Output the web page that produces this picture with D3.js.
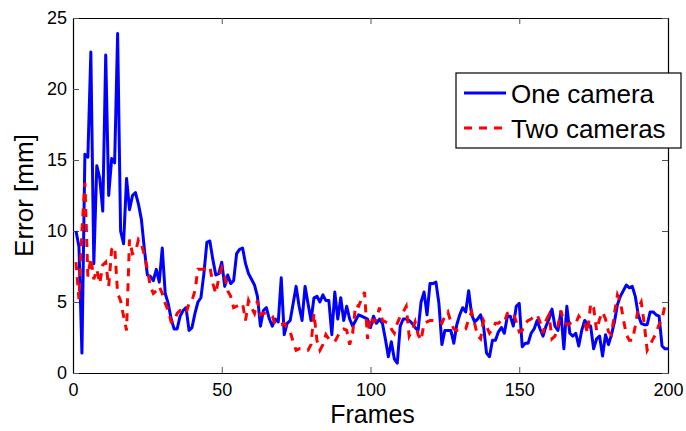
<!DOCTYPE html>
<html>
<head>
<meta charset="utf-8">
<script src="https://cdn.jsdelivr.net/npm/d3@7"></script>
<style>
  body { margin: 0; background: #fff; }
  svg text { font-family: "Liberation Sans", Arial, sans-serif; fill: #000; }
</style>
</head>
<body>
<svg id="chart" width="686" height="431"></svg>
<script>
// frames 1..200
const oneCamera = [
  10.0, 8.9, 1.4, 15.4, 15.2, 22.6, 7.7, 14.6, 13.7, 11.4,
  22.4, 12.5, 15.1, 14.8, 23.9, 10.0, 9.1, 13.7, 11.5, 12.5,
  12.7, 11.9, 10.8, 8.7, 6.9, 6.8, 6.5, 7.3, 6.4, 8.8,
  5.6, 4.9, 3.8, 3.1, 3.1, 4.0, 4.4, 4.6, 3.0, 3.2,
  4.2, 5.0, 5.3, 7.0, 9.2, 9.3, 8.0, 6.9, 7.0, 7.8,
  6.1, 6.9, 6.3, 6.5, 8.4, 8.7, 8.8, 7.7, 7.0, 6.6,
  6.2, 5.4, 3.3, 4.4, 4.6, 3.8, 3.3, 3.8, 3.6, 6.7,
  2.7, 3.5, 3.7, 4.9, 6.1, 4.7, 3.7, 6.1, 4.9, 3.7,
  5.3, 5.4, 5.0, 5.5, 5.1, 5.1, 2.7, 5.7, 3.8, 5.3,
  3.7, 4.7, 3.8, 3.3, 3.7, 4.1, 4.0, 3.9, 3.8, 3.2,
  4.0, 3.5, 3.8, 3.5, 2.4, 1.15, 2.2, 1.0, 0.7, 3.3,
  3.8, 3.8, 3.7, 3.5, 3.2, 3.0, 5.0, 5.7, 4.1, 6.3,
  6.3, 6.4, 4.9, 2.0, 3.0, 3.0, 3.0, 2.1, 3.4, 4.1,
  4.6, 4.3, 5.8, 4.1, 3.6, 3.8, 4.1, 3.3, 1.4, 1.15,
  2.3, 2.3, 2.9, 3.2, 2.8, 4.0, 4.0, 3.3, 4.7, 4.9,
  1.85, 2.1, 2.1, 2.8, 3.1, 3.7, 3.1, 2.6, 3.3, 3.8,
  4.5, 3.3, 3.0, 4.3, 1.7, 4.7, 2.8, 2.6, 2.8, 1.9,
  3.0, 3.7, 3.4, 3.3, 1.7, 2.4, 2.6, 1.2, 2.7, 2.0,
  2.7, 3.6, 4.8, 5.4, 5.8, 6.2, 6.0, 6.1, 5.4, 4.1,
  3.5, 3.4, 3.4, 4.3, 4.3, 4.1, 4.0, 1.9, 1.7, 1.7
];
const twoCameras = [
  7.8, 5.2, 10.0, 13.4, 6.8, 8.1, 6.6, 7.3, 6.3, 7.6,
  7.8, 6.1, 8.7, 8.9, 5.6, 5.1, 4.0, 3.0, 9.4, 8.4,
  8.5, 9.4, 9.1, 8.3, 7.3, 6.1, 5.6, 5.8, 6.1, 5.6,
  4.9, 4.4, 3.6, 3.6, 4.2, 4.4, 4.3, 4.2, 4.9, 5.1,
  5.8, 7.3, 7.3, 7.3, 7.4, 7.5, 6.3, 5.6, 6.7, 7.4,
  6.8, 5.8, 5.4, 4.6, 4.7, 4.8, 4.9, 3.7, 5.1, 4.6,
  4.2, 5.1, 4.1, 4.2, 4.2, 4.1, 4.0, 3.4, 3.4, 3.4,
  3.5, 3.1, 2.9, 2.2, 1.6, 1.7, 1.7, 1.6, 1.6, 2.0,
  4.2, 2.3, 1.6, 2.0, 2.7, 2.4, 2.3, 2.2, 2.6, 3.0,
  3.1, 3.0, 2.0, 2.8, 4.8, 4.7, 5.2, 5.7, 2.4, 4.0,
  3.6, 3.8, 4.6, 3.7, 3.6, 3.5, 3.1, 2.8, 3.5, 4.0,
  4.3, 4.7, 2.6, 3.0, 3.6, 2.7, 2.3, 3.5, 3.6, 3.7,
  3.7, 3.7, 3.6, 3.5, 4.0, 4.3, 3.6, 3.1, 3.0, 3.0,
  3.0, 3.1, 3.8, 4.3, 3.5, 2.6, 2.4, 3.7, 3.3, 2.8,
  3.1, 3.5, 3.5, 3.7, 3.6, 4.2, 4.3, 4.2, 3.6, 2.9,
  3.0, 3.5, 3.7, 3.8, 4.0, 4.1, 3.6, 2.8, 3.7, 4.1,
  2.4, 2.6, 3.3, 4.4, 3.6, 3.4, 3.5, 3.6, 3.5, 4.0,
  3.7, 3.5, 2.8, 4.9, 4.6, 3.0, 3.8, 4.3, 3.8, 2.9,
  2.7, 4.2, 5.5, 5.0, 3.8, 2.7, 2.3, 2.3, 3.3, 4.6,
  5.0, 3.5, 1.6, 2.0, 2.4, 2.8, 3.4, 3.8, 4.8, 4.9
];
const seriesNames = ["One camera", "Two cameras"];
const seriesColors = ["#0000ff", "#ff0000"];
const xTicks = [0, 50, 100, 150, 200];
const yTicks = [0, 5, 10, 15, 20, 25];

const svg = d3.select("#chart");
const margin = {left: 73, right: 18, top: 18, bottom: 58};
const width = 686, height = 431;

const x = d3.scaleLinear().domain([0, 200]).range([margin.left, width - margin.right]);
const y = d3.scaleLinear().domain([0, 25]).range([height - margin.bottom, margin.top]);

// axes, matlab style box with inward ticks
const tickLen = 6;
svg.append("g")
  .attr("transform", `translate(0,${y(0)})`)
  .call(d3.axisBottom(x).tickValues(xTicks).tickSize(-tickLen).tickPadding(10).tickSizeOuter(0))
  .call(g => g.selectAll(".tick text").attr("font-size", 18));
svg.append("g")
  .attr("transform", `translate(0,${y(25)})`)
  .call(d3.axisTop(x).tickValues(xTicks).tickSize(-tickLen).tickFormat("").tickSizeOuter(0));
svg.append("g")
  .attr("transform", `translate(${x(0)},0)`)
  .call(d3.axisLeft(y).tickValues(yTicks).tickSize(-tickLen).tickPadding(6).tickSizeOuter(0))
  .call(g => g.selectAll(".tick text").attr("font-size", 18));
svg.append("g")
  .attr("transform", `translate(${x(200)},0)`)
  .call(d3.axisRight(y).tickValues(yTicks).tickSize(-tickLen).tickFormat("").tickSizeOuter(0));

svg.selectAll(".domain").attr("stroke", "#000").attr("stroke-width", 1.2);
svg.selectAll(".tick line").attr("stroke", "#555");

const line = d3.line()
  .x((d, i) => x(i + 1))
  .y(d => y(d));

const plot = svg.append("g");
plot.append("path")
  .datum(oneCamera)
  .attr("fill", "none")
  .attr("stroke", seriesColors[0])
  .attr("stroke-width", 3)
  .attr("stroke-linejoin", "round")
  .attr("d", line);
plot.append("path")
  .datum(twoCameras)
  .attr("fill", "none")
  .attr("stroke", seriesColors[1])
  .attr("stroke-width", 3)
  .attr("stroke-dasharray", "8,7")
  .attr("d", line);

// axis titles
svg.append("text")
  .attr("x", (x(0) + x(200)) / 2 + 2)
  .attr("y", 423)
  .attr("text-anchor", "middle")
  .attr("font-size", 25)
  .text("Frames");
svg.append("text")
  .attr("transform", `translate(33,${(y(0) + y(25)) / 2}) rotate(-90)`)
  .attr("text-anchor", "middle")
  .attr("font-size", 26)
  .text("Error [mm]");

// legend
const legend = svg.append("g").attr("transform", "translate(456,73)");
legend.append("rect")
  .attr("width", 225)
  .attr("height", 75)
  .attr("fill", "#fff")
  .attr("stroke", "#000")
  .attr("stroke-width", 1.2);
seriesNames.forEach((name, i) => {
  const row = legend.append("g").attr("transform", `translate(0,${20 + i * 35})`);
  row.append("line")
    .attr("x1", 8).attr("x2", 50)
    .attr("stroke", seriesColors[i])
    .attr("stroke-width", 3)
    .attr("stroke-dasharray", i === 1 ? "8,7" : null);
  row.append("text")
    .attr("x", 55)
    .attr("y", 10)
    .attr("font-size", 26)
    .text(name);
});
</script>
</body>
</html>
